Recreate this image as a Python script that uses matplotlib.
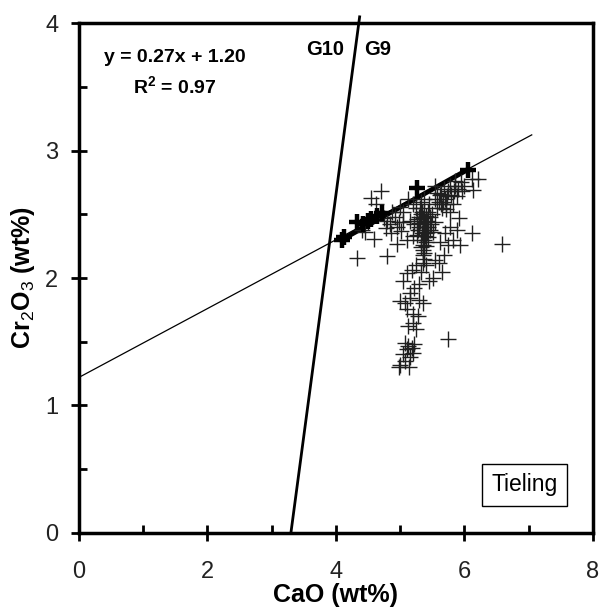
import matplotlib
matplotlib.use("Agg")
import matplotlib.pyplot as plt
from matplotlib.ticker import MultipleLocator

plt.rcParams["font.family"] = ["Liberation Sans", "DejaVu Sans"]
plt.rcParams["mathtext.fontset"] = "custom"
plt.rcParams["mathtext.rm"] = "Liberation Sans"
plt.rcParams["mathtext.bf"] = "Liberation Sans:bold"

# garnet analyses (CaO, Cr2O3 wt%)
cao = [
    4.55, 4.70, 4.62, 4.45, 4.60, 4.33, 4.78, 4.86, 4.98, 4.92, 5.02, 4.79, 4.95, 5.05, 5.10, 5.15,
    5.25, 5.30, 5.32, 5.35, 5.38, 5.40, 5.42, 5.45, 5.28, 5.33, 5.36, 5.40, 5.44, 5.48, 5.50, 5.52,
    5.30, 5.38, 5.26, 5.34, 5.41, 5.46, 5.55, 5.58, 5.37, 5.40, 5.32, 5.22, 5.20,
    5.60, 5.65, 5.70, 5.75, 5.80, 5.85, 5.90, 5.95, 6.00, 5.72, 5.78, 5.62, 5.68, 5.88, 6.12, 6.22,
    6.13, 5.82, 5.55, 5.92, 5.55,
    5.74, 5.82, 5.93, 5.68, 5.60, 5.55, 5.65, 5.52, 5.45, 5.70, 5.62, 5.78, 5.88, 6.12, 6.58,
    5.10, 5.18, 5.25, 5.05, 5.30, 5.22, 5.15, 5.00, 5.08, 5.15, 5.30, 5.35, 5.10, 5.20, 5.28, 5.20,
    5.25, 5.12,
    5.07, 5.10, 5.00, 5.20, 5.15, 5.05, 5.12, 5.18, 5.08, 5.22, 4.98, 5.14,
    5.74,
    4.85, 4.95, 5.05, 4.80,
    4.50, 4.40, 4.75, 4.88, 5.00, 5.12, 5.20,
    5.35, 5.38, 5.42, 5.36, 5.33, 5.39, 5.44, 5.31, 5.37, 5.41, 5.34, 5.36, 5.29, 5.43, 5.47,
    5.38, 5.35, 5.40, 5.36, 5.33, 5.39, 5.27, 5.31,
    5.63, 5.67, 5.73, 5.77, 5.84, 5.58, 5.64, 5.71, 5.86, 5.96,
]
cr2o3 = [
    2.63, 2.68, 2.58, 2.36, 2.31, 2.16, 2.39, 2.35, 2.44, 2.48, 2.37, 2.17, 2.27, 2.52, 2.30, 2.45,
    2.55, 2.48, 2.60, 2.40, 2.52, 2.35, 2.45, 2.58, 2.38, 2.30, 2.22, 2.28, 2.32, 2.42, 2.50, 2.36,
    2.43, 2.62, 2.46, 2.52, 2.40, 2.48, 2.44, 2.55, 2.15, 2.10, 2.05, 2.42, 2.33,
    2.60, 2.55, 2.62, 2.68, 2.65, 2.72, 2.70, 2.75, 2.72, 2.58, 2.52, 2.65, 2.70, 2.64, 2.78, 2.78,
    2.69, 2.58, 2.62, 2.47, 2.72,
    2.26, 2.30, 2.26, 2.18, 2.12, 2.14, 2.05, 2.00, 1.98, 2.35, 2.28, 2.40, 2.38, 2.35, 2.27,
    2.04, 2.06, 2.10, 1.98, 1.95, 1.92, 1.88, 1.82, 1.80, 1.84, 1.83, 1.80, 1.76, 1.72, 1.70, 1.65,
    1.60, 1.62,
    1.49, 1.44, 1.32, 1.41, 1.38, 1.40, 1.47, 1.45, 1.35, 1.48, 1.30, 1.30,
    1.52,
    2.42, 2.40, 2.44, 2.45,
    2.44, 2.38, 2.47, 2.52, 2.56, 2.62, 2.58,
    2.38, 2.42, 2.36, 2.47, 2.50, 2.33, 2.40, 2.45, 2.30, 2.49, 2.35, 2.26, 2.40, 2.52, 2.38,
    2.20, 2.18, 2.25, 2.12, 2.24, 2.44, 2.34, 2.55,
    2.66, 2.60, 2.64, 2.72, 2.68, 2.67, 2.58, 2.54, 2.76, 2.68,
]

# analyses used for the regression (bold)
cao_fit = [4.09, 4.13, 4.33, 4.42, 4.50, 4.55, 4.64, 4.72, 5.26, 6.05]
cr_fit = [2.30, 2.32, 2.44, 2.42, 2.45, 2.46, 2.49, 2.51, 2.71, 2.85]

slope, intercept = 0.27, 1.22
reg_x = [0.0, 7.05]
g10_x = [3.30, 4.37]
g10_y = [0.0, 4.05]

fig = plt.figure(figsize=(6.03, 6.11), dpi=100)
ax = fig.add_axes([0.131, 0.128, 0.852, 0.834])

ax.plot(reg_x, [slope * v + intercept for v in reg_x], color="black", lw=0.9)
ax.plot(g10_x, g10_y, color="black", lw=2, clip_on=False)
ax.plot([cao_fit[0], cao_fit[-1]], [cr_fit[0], cr_fit[-1]], color="black", lw=3.5,
        solid_capstyle="butt")

ax.plot(cao, cr2o3, ls="none", marker="+", ms=12, mew=1.0, color="#202020")
ax.plot(cao_fit, cr_fit, ls="none", marker="+", ms=12, mew=3.2, color="black")

ax.text(1.49, 3.73, "y = 0.27x + 1.20", ha="center", va="center", fontsize=14, fontweight="bold")
ax.text(1.49, 3.50, r"R$^\mathbf{2}$ = 0.97", ha="center", va="center", fontsize=14,
        fontweight="bold")
ax.text(3.84, 3.79, "G10", ha="center", va="center", fontsize=14.5, fontweight="bold")
ax.text(4.65, 3.79, "G9", ha="center", va="center", fontsize=14.5, fontweight="bold")
ax.text(6.94, 0.376, "Tieling", ha="center", va="center", fontsize=16.5,
        bbox=dict(boxstyle="square,pad=0.4", fc="white", ec="black", lw=1))

ax.set_xlim(0, 8)
ax.set_ylim(0, 4)
ax.xaxis.set_major_locator(MultipleLocator(2))
ax.xaxis.set_minor_locator(MultipleLocator(1))
ax.yaxis.set_major_locator(MultipleLocator(1))
ax.yaxis.set_minor_locator(MultipleLocator(0.5))
ax.tick_params(which="major", direction="inout", length=12, width=2, labelsize=17,
               labelcolor="#222222")
ax.tick_params(which="minor", direction="in", length=6, width=2)
ax.tick_params(axis="x", which="major", pad=14)
ax.tick_params(axis="y", which="major", pad=9)
for s in ax.spines.values():
    s.set_linewidth(2.5)

ax.set_xlabel("CaO (wt%)", fontsize=18, fontweight="bold", labelpad=0)
ax.set_ylabel(r"Cr$_\mathrm{2}$O$_\mathrm{3}$ (wt%)", fontsize=18, fontweight="bold", labelpad=6)

fig.savefig("out.png", dpi=100)
